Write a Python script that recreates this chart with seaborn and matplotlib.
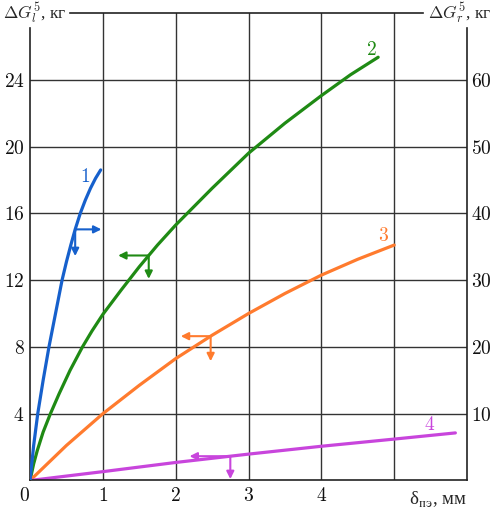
import numpy as np
import pandas as pd
import matplotlib
matplotlib.use('Agg')
import matplotlib.pyplot as plt
import seaborn as sns

sns.set_theme(style='white')
plt.rcParams['font.family'] = ['Liberation Serif', 'DejaVu Serif']
plt.rcParams['mathtext.fontset'] = 'cm'

# curve 1 is read against the right axis, 2-4 against the left one
x1 = [0, 0.05, 0.106, 0.18, 0.26, 0.35, 0.44, 0.5, 0.56, 0.62, 0.69, 0.76, 0.83, 0.90, 0.97]
y1_right = [0, 5.25, 10, 15, 20, 25, 30, 32.75, 35.25, 37.6, 40, 42, 43.75, 45.25, 46.5]

x2 = [0, 0.05, 0.1, 0.18, 0.28, 0.4, 0.55, 0.72, 0.85, 1.0, 1.25, 1.5, 1.75, 2.0,
      2.5, 3.0, 3.5, 4.0, 4.4, 4.78]
y2 = [0, 1.0, 1.8, 2.9, 4.0, 5.2, 6.6, 8.0, 8.95, 9.95, 11.4, 12.8, 14.1, 15.3,
      17.5, 19.6, 21.4, 23.05, 24.3, 25.35]

x3 = [0, 0.5, 1.0, 1.5, 2.0, 2.5, 3.0, 3.5, 4.0, 4.5, 5.0]
y3 = [0, 2.1, 4.0, 5.7, 7.3, 8.7, 10.0, 11.2, 12.3, 13.25, 14.1]

x4 = [0, 1, 2, 3, 4, 5, 5.84]
y4 = [0, 0.53, 1.08, 1.58, 2.05, 2.48, 2.85]

curve_names = ['1', '2', '3', '4']
colors = ['#1660cc', '#1f8a14', '#ff7b2e', '#c845dc']

left_ticks = [4, 8, 12, 16, 20, 24]
right_ticks = [10, 20, 30, 40, 50, 60]
x_ticks = [0, 1, 2, 3, 4]
grid_x = [1, 2, 3, 4, 5]
right_scale = 2.5  # right axis / left axis

# arrow marks on the curves (which axis to read)
arrow_x = [0.62, 1.63, 2.48, 2.75]
arrow_dx = [0.36, -0.42, -0.41, -0.56]
arrow_dy = [-1.6, -1.4, -1.5, -1.37]

# label positions for the curve numbers
label_pos = [(0.75, 18.2), (4.68, 25.8), (4.86, 14.65), (5.48, 3.3)]

fig = plt.figure(figsize=(4.93, 5.15), dpi=100)
ax = fig.add_axes([0.0609, 0.067, 0.8864, 0.9078])
ax2 = ax.twinx()

ax.set_xlim(0, 6)
ax.set_ylim(0, 28)
ax2.set_ylim(0, 28 * right_scale)

line_w = 2.3
sns.lineplot(x=x1, y=y1_right, ax=ax2, color=colors[0], linewidth=line_w)
sns.lineplot(x=x2, y=y2, ax=ax, color=colors[1], linewidth=line_w)
sns.lineplot(x=x3, y=y3, ax=ax, color=colors[2], linewidth=line_w)
sns.lineplot(x=x4, y=y4, ax=ax, color=colors[3], linewidth=line_w)

# grid
for gx in grid_x:
    ax.axvline(gx, color='#333333', lw=1.0, zorder=0)
for gy in left_ticks:
    ax.axhline(gy, color='#333333', lw=1.0, zorder=0)

# arrows
curves = [(x1, np.array(y1_right) / right_scale), (x2, y2), (x3, y3), (x4, y4)]
for i, (cx, cy) in enumerate(curves):
    ax0 = arrow_x[i]
    ay0 = np.interp(ax0, cx, cy)
    props = dict(arrowstyle='-|>', color=colors[i], lw=1.5,
                 mutation_scale=11, shrinkA=0, shrinkB=0)
    ax.annotate('', xy=(ax0 + arrow_dx[i], ay0), xytext=(ax0, ay0),
                arrowprops=props, zorder=5)
    ax.annotate('', xy=(ax0, ay0 + arrow_dy[i]), xytext=(ax0, ay0),
                arrowprops=props, zorder=5)

for i, name in enumerate(curve_names):
    ax.text(label_pos[i][0], label_pos[i][1], '$' + name + '$',
            color=colors[i], fontsize=14, ha='center', va='center')

# ticks
ax.set_yticks(left_ticks)
ax.set_yticklabels(['$%d$' % v for v in left_ticks])
ax2.set_yticks(right_ticks)
ax2.set_yticklabels(['$%d$' % v for v in right_ticks])
ax.set_xticks(x_ticks)
ax.set_xticklabels(['$%d$' % v for v in x_ticks])
ax.tick_params(axis='both', length=0, labelsize=14, colors='#111111')
ax.tick_params(axis='y', pad=4)
ax.tick_params(axis='x', pad=5)
ax2.tick_params(axis='y', length=0, labelsize=14, colors='#111111', pad=3)
ax.get_xticklabels()[0].set_horizontalalignment('right')

# frame
for sp in ax2.spines.values():
    sp.set_visible(False)
for name in ['left', 'right', 'top', 'bottom']:
    ax.spines[name].set_color('#222222')
    ax.spines[name].set_linewidth(1.2)
ax.spines['left'].set_bounds(0, 27.1)
ax.spines['right'].set_bounds(0, 27.1)
ax.spines['top'].set_bounds(0.55, 5.40)

# axis titles
ax.text(-0.062, 1.0, r'$\Delta G^{5}_{l}$, кг', transform=ax.transAxes,
        ha='left', va='center', fontsize=12.5)
ax.text(1.055, 1.0, r'$\Delta G^{5}_{r}$, кг', transform=ax.transAxes,
        ha='right', va='center', fontsize=12.5)
ax.text(6.0, -0.55, r'δ$_{\rm пэ}$, мм', ha='right', va='top', fontsize=13.5)

fig.savefig('out.png', dpi=100)
